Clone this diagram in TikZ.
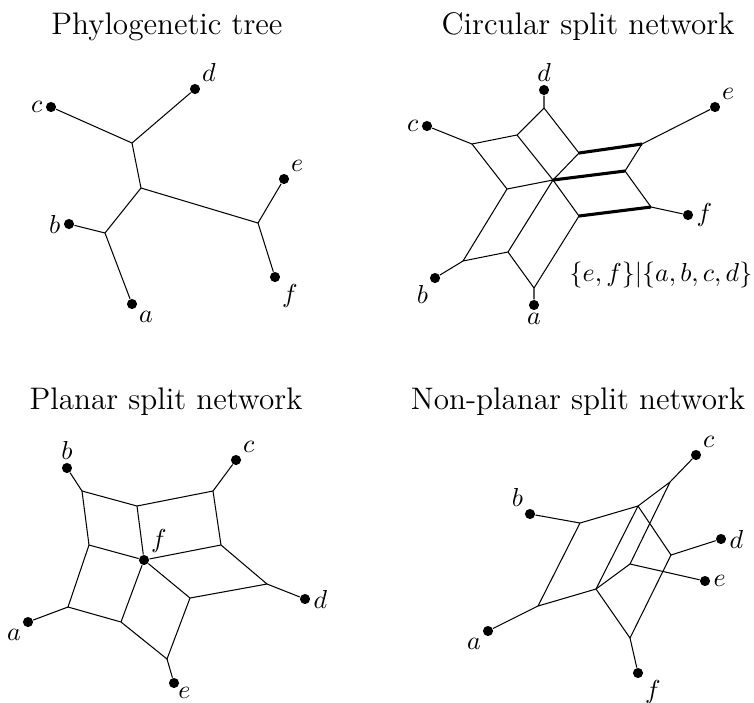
\documentclass[tikz,border=0pt]{standalone}
\usepackage{tikz}
\usetikzlibrary{positioning}

\begin{document}
\begin{tikzpicture}[
  x=0.385pt, y=-0.385pt,
  leaf/.style={circle, fill, inner sep=0pt, minimum size=3.9pt},
  ttl/.style={font=\large, anchor=base},
  every label/.style={inner sep=1pt},
  splitedge/.style={line width=1.2pt}
]
\useasboundingbox (0,0) rectangle (754,702);

\node[ttl] (ttltree) at (167,34) {Phylogenetic tree};
\node[ttl] (ttlcirc) at (588,34) {Circular split network};
\node[ttl] (ttlplan) at (166,409) {Planar split network};
\node[ttl] (ttlnonp) at (578,409) {Non-planar split network};

\coordinate (t1) at (132,143);
\coordinate (t2) at (141,188);
\coordinate (t3) at (105,233);
\coordinate (t4) at (258,223);
\node[leaf, label=below right:$a$] (ta) at (132,304) {};
\node[leaf, label=left:$b$]        (tb) at (69,224)  {};
\node[leaf, label=left:$c$]        (tc) at (51,107)  {};
\node[leaf, label=above right:$d$] (td) at (195,89)  {};
\node[leaf, label=above right:$e$] (te) at (284,179) {};
\node[leaf, label=below right:$f$] (tf) at (275,277) {};

\draw (tc) -- (t1) -- (td);
\draw (t1) -- (t2) -- (t4);
\draw (tb) -- (t3) -- (ta);
\draw (t2) -- (t3);
\draw (te) -- (t4) -- (tf);

\coordinate (c0)  at (553,180);
\coordinate (c1)  at (472,144);
\coordinate (c2)  at (517,135);
\coordinate (c3)  at (544,108);
\coordinate (c4)  at (507,189);
\coordinate (c5)  at (579,153);
\coordinate (c6)  at (642,144);
\coordinate (c7)  at (625,171);
\coordinate (c8)  at (579,216);
\coordinate (c9)  at (651,207);
\coordinate (c10) at (463,261);
\coordinate (c11) at (508,252);
\coordinate (c12) at (534,288);
\node[leaf, label=below:$a$]       (ca) at (534,305) {};
\node[leaf, label=below left:$b$]  (cb) at (435,278) {};
\node[leaf, label=left:$c$]        (cc) at (427,126) {};
\node[leaf, label=above:$d$]       (cd) at (544,90)  {};
\node[leaf, label=above right:$e$] (ce) at (715,107) {};
\node[leaf, label=right:$f$]       (cf) at (688,215) {};
\node (splitlbl) at (661,275) {$\{e,f\}|\{a,b,c,d\}$};

\draw (cc) -- (c1) -- (c2) -- (c3) -- (cd);
\draw (c1) -- (c4) -- (c0) -- (c2);
\draw (c3) -- (c5) -- (c0);
\draw (ce) -- (c6) -- (c7) -- (c9) -- (cf);
\draw (c0) -- (c8) -- (c12) -- (ca);
\draw (c4) -- (c10) -- (c11) -- (c12);
\draw (c0) -- (c11);
\draw (c10) -- (cb);
\draw[splitedge] (c5) -- (c6);
\draw[splitedge] (c0) -- (c7);
\draw[splitedge] (c8) -- (c9);

\coordinate (q1)  at (82,491);
\coordinate (q2)  at (137,506);
\coordinate (q3)  at (213,491);
\coordinate (q4)  at (89,545);
\coordinate (q5)  at (221,545);
\coordinate (q6)  at (267,584);
\coordinate (q7)  at (190,598);
\coordinate (q8)  at (68,607);
\coordinate (q9)  at (121,622);
\coordinate (q10) at (167,659);
\node[leaf, label=below left:$a$]  (pa) at (28,622)  {};
\node[leaf, label=above:$b$]       (pb) at (67,468)  {};
\node[leaf, label=above right:$c$] (pc) at (236,460) {};
\node[leaf, label=right:$d$]       (pd) at (305,599) {};
\node[leaf, label={[label distance=-1.5pt]below right:$e$}] (pe) at (174,683) {};
\node[leaf, label=above right:$f$] (pf) at (144,560) {};

\draw (pb) -- (q1) -- (q2) -- (q3) -- (pc);
\draw (q1) -- (q4) -- (pf) -- (q5) -- (q3);
\draw (q2) -- (pf) -- (q7) -- (q6) -- (q5);
\draw (q6) -- (pd);
\draw (q4) -- (q8) -- (q9) -- (q10) -- (q7);
\draw (pf) -- (q9);
\draw (q8) -- (pa);
\draw (q10) -- (pe);

\coordinate (n1) at (670,482);
\coordinate (n2) at (580,523);
\coordinate (n3) at (638,506);
\coordinate (n4) at (671,555);
\coordinate (n5) at (630,564);
\coordinate (n6) at (596,589);
\coordinate (n7) at (538,606);
\coordinate (n8) at (630,638);
\node[leaf, label=below left:$a$]  (na) at (488,631) {};
\node[leaf, label=above left:$b$]  (nb) at (530,514) {};
\node[leaf, label=above right:$c$] (nc) at (696,455) {};
\node[leaf, label=right:$d$]       (nd) at (721,539) {};
\node[leaf, label=right:$e$]       (ne) at (705,581) {};
\node[leaf, label=below right:$f$] (nf) at (638,673) {};

\draw (nc) -- (n1) -- (n3) -- (n2) -- (nb);
\draw (n1) -- (n5) -- (ne);
\draw (n3) -- (n4) -- (nd);
\draw (n3) -- (n6) -- (n7) -- (n2);
\draw (n5) -- (n6) -- (n8) -- (n4);
\draw (n7) -- (na);
\draw (n8) -- (nf);
\end{tikzpicture}
\end{document}
